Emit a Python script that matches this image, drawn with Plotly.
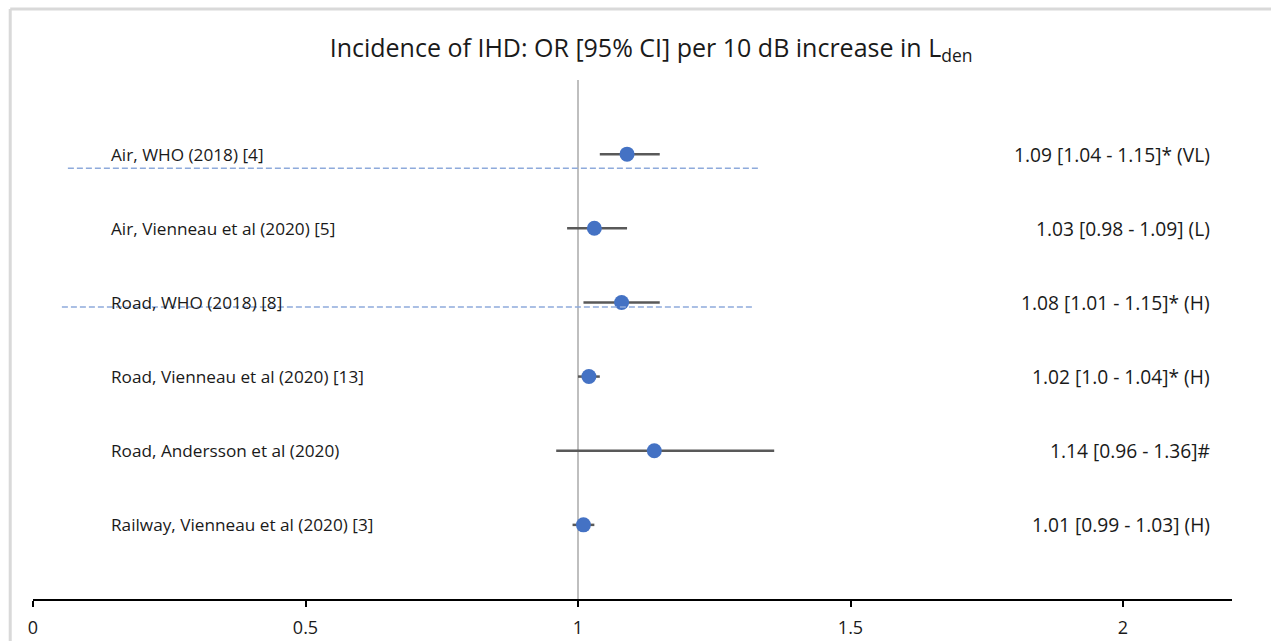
import plotly.graph_objects as go

studies = ["Air, WHO (2018) [4]", "Air, Vienneau et al (2020) [5]", "Road, WHO (2018) [8]",
           "Road, Vienneau et al (2020) [13]", "Road, Andersson et al (2020)", "Railway, Vienneau et al (2020) [3]"]
or_vals = [1.09, 1.03, 1.08, 1.02, 1.14, 1.01]
ci_low = [1.04, 0.98, 1.01, 1.00, 0.96, 0.99]
ci_high = [1.15, 1.09, 1.15, 1.04, 1.36, 1.03]
result_labels = ["1.09 [1.04 - 1.15]* (VL)", "1.03 [0.98 - 1.09] (L)", "1.08 [1.01 - 1.15]* (H)",
                 "1.02 [1.0 - 1.04]* (H)", "1.14 [0.96 - 1.36]#", "1.01 [0.99 - 1.03] (H)"]
y_pos = [6, 5, 4, 3, 2, 1]
x_ticks = [0, 0.5, 1, 1.5, 2]
tick_text = ["0", "0.5", "1", "1.5", "2"]

FONT = "Open Sans"
TXT = "#1a1a1a"
fig = go.Figure()

# reference line at OR = 1
fig.add_shape(type="line", x0=1, x1=1, y0=0, y1=7, xref="x", yref="y",
              line=dict(color="#bfbfbf", width=2), layer="below")

# stray dashed lines
fig.add_shape(type="line", x0=0.064, x1=1.331, y0=5.81, y1=5.81, xref="x", yref="y",
              line=dict(color="#8eaadb", width=1.5, dash="6px,3px"))
fig.add_shape(type="line", x0=0.053, x1=1.32, y0=3.94, y1=3.94, xref="x", yref="y",
              line=dict(color="#8eaadb", width=1.5, dash="6px,3px"))

fig.add_trace(go.Scatter(
    x=or_vals, y=y_pos, mode="markers",
    marker=dict(color="#4472c4", size=15),
    error_x=dict(type="data", symmetric=False,
                 array=[h - o for h, o in zip(ci_high, or_vals)],
                 arrayminus=[o - l for o, l in zip(or_vals, ci_low)],
                 color="#595959", thickness=2.5, width=0),
    showlegend=False, hoverinfo="skip"))

for s, r, y in zip(studies, result_labels, y_pos):
    fig.add_annotation(x=0.14, y=y, xref="x", yref="y", text=s, showarrow=False,
                       xanchor="left", yanchor="middle",
                       font=dict(family=FONT, size=17.2, color=TXT))
    fig.add_annotation(x=2.163, y=y, xref="x", yref="y", text=r, showarrow=False,
                       xanchor="right", yanchor="middle",
                       font=dict(family=FONT, size=19.2, color=TXT))

# outer border (top & left)
fig.add_shape(type="line", xref="paper", yref="paper", x0=-0.019, x1=1.04, y0=1.137, y1=1.137,
              line=dict(color="#d9d9d9", width=3))
fig.add_shape(type="line", xref="paper", yref="paper", x0=-0.019, x1=-0.019, y0=1.137, y1=-0.1,
              line=dict(color="#d9d9d9", width=3))

fig.update_layout(
    width=1271, height=641,
    margin=dict(l=33, r=39, t=80, b=42, autoexpand=False),
    paper_bgcolor="white", plot_bgcolor="white",
    title=dict(text="Incidence of IHD: OR [95% CI] per 10 dB increase in L<sub>den</sub>",
               x=0.5155, xref="paper", xanchor="center", y=0.925, yanchor="middle",
               font=dict(family=FONT, size=25, color=TXT)),
    xaxis=dict(range=[0, 2.2], tickvals=x_ticks, ticktext=tick_text, showgrid=False,
               zeroline=False, showline=True, linecolor="black", linewidth=2,
               ticks="outside", ticklen=6, tickwidth=2, tickcolor="black",
               ticklabelstandoff=5, automargin=False,
               tickfont=dict(family=FONT, size=18, color=TXT)),
    yaxis=dict(range=[0, 7], showgrid=False, zeroline=False, showticklabels=False,
               showline=False, fixedrange=True, automargin=False),
)

fig.write_html("out.html")
